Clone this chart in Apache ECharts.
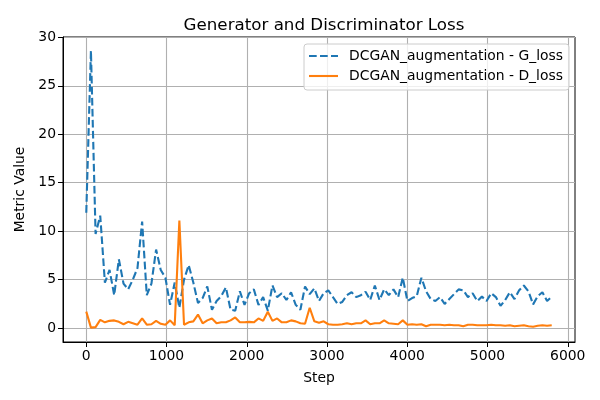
<!DOCTYPE html>
<html>
<head>
<meta charset="utf-8">
<script src="https://cdn.jsdelivr.net/npm/echarts@6/dist/echarts.min.js"></script>
<style>html,body{margin:0;padding:0;background:#fff}#c{width:600px;height:400px}</style>
</head>
<body>
<div id="c"></div>
<script>
const steps = [0,58,116,174,232,290,348,406,464,522,580,638,696,754,812,870,928,986,1044,1102,1160,1218,1276,1334,1392,1450,1508,1566,1624,1682,1740,1798,1856,1914,1972,2030,2088,2146,2204,2262,2320,2378,2436,2494,2552,2610,2668,2726,2784,2842,2900,2958,3016,3074,3132,3190,3248,3306,3364,3422,3480,3538,3596,3654,3712,3770,3828,3886,3944,4002,4060,4118,4176,4234,4292,4350,4408,4466,4524,4582,4640,4698,4756,4814,4872,4930,4988,5046,5104,5162,5220,5278,5336,5394,5452,5510,5568,5626,5684,5742,5800];
const gLoss = [11.9,28.6,9.7,11.6,4.7,6.0,3.4,7.1,4.6,4.0,5.0,6.2,11.0,3.4,4.6,8.1,6.0,5.2,2.4,4.7,2.1,5.0,6.5,4.7,2.6,3.1,4.3,1.9,2.8,3.3,4.2,1.9,1.8,3.8,2.4,3.6,4.0,2.4,3.2,1.8,4.4,3.2,3.6,2.9,3.7,2.4,1.9,4.3,3.5,4.1,2.8,3.6,3.9,3.2,2.5,2.7,3.4,3.7,3.2,3.4,3.75,2.9,4.4,2.9,4.0,3.4,4.0,3.2,5.2,2.8,3.1,3.3,5.2,3.8,3.0,2.8,3.2,2.5,3.0,3.5,4.0,3.9,3.2,3.6,2.8,3.25,2.8,3.6,3.2,2.3,2.9,3.7,3.0,3.9,4.4,3.8,2.45,3.3,3.7,2.8,3.25];
const dLoss = [1.7,0.05,0.1,0.85,0.6,0.75,0.8,0.65,0.4,0.65,0.5,0.35,1.0,0.35,0.4,0.75,0.45,0.35,0.8,0.3,11.1,0.35,0.6,0.7,1.4,0.5,0.8,1.0,0.5,0.6,0.6,0.8,1.1,0.6,0.6,0.65,0.6,1.0,0.75,1.7,0.75,1.0,0.6,0.6,0.8,0.7,0.5,0.45,2.1,0.7,0.55,0.7,0.4,0.35,0.35,0.4,0.5,0.4,0.5,0.5,0.8,0.4,0.5,0.5,0.8,0.5,0.45,0.4,0.8,0.35,0.4,0.35,0.4,0.2,0.35,0.35,0.35,0.3,0.35,0.3,0.3,0.2,0.35,0.35,0.3,0.3,0.3,0.35,0.3,0.3,0.25,0.3,0.2,0.25,0.3,0.2,0.15,0.25,0.3,0.25,0.3];
const xTicks = [0,1000,2000,3000,4000,5000,6000];
const yTicks = [0,5,10,15,20,25,30];
const gName = 'DCGAN_augmentation - G_loss';
const dName = 'DCGAN_augmentation - D_loss';

const font = 'DejaVu Sans';
const dashIcon = 'path://M0,0h7.7v2.1h-7.7z M11,0h7.7v2.1h-7.7z M22,0h7v2.1h-7z';
const solidIcon = 'path://M0,0h29v2.1h-29z';
const chart = echarts.init(document.getElementById('c'), null, {renderer:'canvas'});
chart.setOption({
  animation: false,
  backgroundColor: '#fff',
  title: {
    text: 'Generator and Discriminator Loss',
    left: 319, top: 12, textAlign: 'center',
    textStyle: {fontFamily: font, fontSize: 16.7, fontWeight: 'normal', color: '#000'}
  },
  legend: {
    orient: 'vertical', left: 304, top: 44,
    itemWidth: 29, itemHeight: 2.1, itemGap: 6,
    padding: [5, 6, 7, 5],
    backgroundColor: 'rgba(255,255,255,0.8)',
    borderColor: '#cccccc', borderWidth: 1, borderRadius: 3,
    textStyle: {fontFamily: font, fontSize: 13.9, lineHeight: 14, color: '#000', padding: [0,0,0,6]},
    data: [{name: gName, icon: dashIcon}, {name: dName, icon: solidIcon}]
  },
  grid: {left: 63, right: 25, top: 37, bottom: 58, show: true, borderColor: '#000', borderWidth: 1, backgroundColor: 'transparent'},
  xAxis: {
    type: 'value', min: -290, max: 6090,
    name: 'Step', nameLocation: 'middle', nameGap: 29,
    nameTextStyle: {fontFamily: font, fontSize: 13.9, color: '#000'},
    axisLine: {show: true, onZero: false, lineStyle: {color: '#000', width: 1}},
    axisTick: {show: true, length: 5, customValues: xTicks, lineStyle: {color: '#000'}},
    axisLabel: {customValues: xTicks, formatter: v => String(v), fontFamily: font, fontSize: 13.9, color: '#000', margin: 7},
    splitLine: {show: true, lineStyle: {color: '#b0b0b0', width: 1.1}}
  },
  yAxis: {
    type: 'value', min: -1.43, max: 30.03,
    name: 'Metric Value', nameLocation: 'middle', nameGap: 36,
    nameTextStyle: {fontFamily: font, fontSize: 13.9, color: '#000'},
    axisLine: {show: true, onZero: false, lineStyle: {color: '#000', width: 1}},
    axisTick: {show: true, length: 5, customValues: yTicks, lineStyle: {color: '#000'}},
    axisLabel: {customValues: yTicks, formatter: v => String(v), fontFamily: font, fontSize: 13.9, color: '#000', margin: 7},
    splitLine: {show: true, lineStyle: {color: '#b0b0b0', width: 1.1}}
  },
  series: [
    {
      name: gName, type: 'line', symbol: 'none',
      data: steps.map((s, i) => [s, gLoss[i]]),
      lineStyle: {color: '#1f77b4', width: 2.1, type: [7.7, 3.3]},
      itemStyle: {color: '#1f77b4'}
    },
    {
      name: dName, type: 'line', symbol: 'none',
      data: steps.map((s, i) => [s, dLoss[i]]),
      lineStyle: {color: '#ff7f0e', width: 2.1},
      itemStyle: {color: '#ff7f0e'}
    }
  ]
});
</script>
</body>
</html>
